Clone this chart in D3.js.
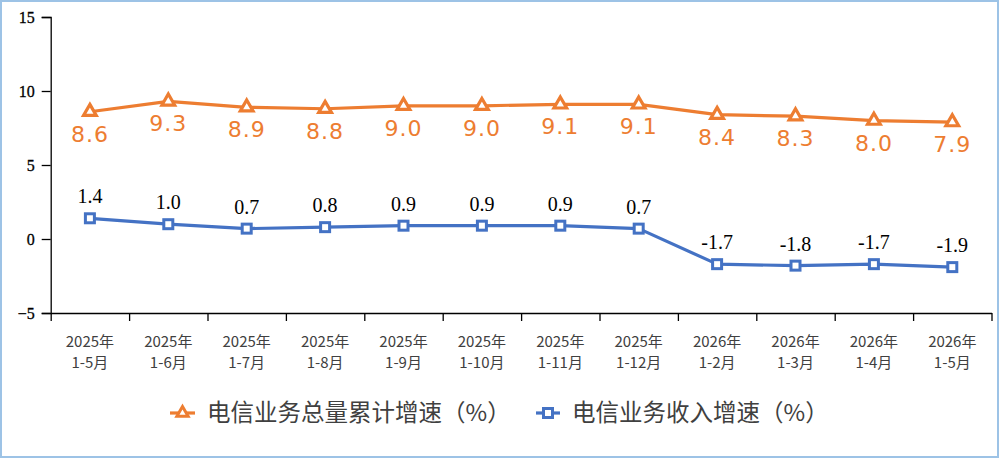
<!DOCTYPE html>
<html><head><meta charset="utf-8">
<script src="https://cdn.jsdelivr.net/npm/d3@7"></script>
<style>
html,body{margin:0;padding:0;background:#fff;}
svg{display:block;}
</style></head>
<body>
<svg id="chart" width="1000" height="459"></svg>
<script>
const years = ["2025年","2025年","2025年","2025年","2025年","2025年","2025年","2025年","2026年","2026年","2026年","2026年"];
const months = ["1-5月","1-6月","1-7月","1-8月","1-9月","1-10月","1-11月","1-12月","1-2月","1-3月","1-4月","1-5月"];
const totalGrowth = [8.6, 9.3, 8.9, 8.8, 9.0, 9.0, 9.1, 9.1, 8.4, 8.3, 8.0, 7.9];
const revenueGrowth = [1.4, 1.0, 0.7, 0.8, 0.9, 0.9, 0.9, 0.7, -1.7, -1.8, -1.7, -1.9];
const yTicks = [-5, 0, 5, 10, 15];
const seriesNames = ["电信业务总量累计增速（%）", "电信业务收入增速（%）"];

const orange = "#ED7D31", blue = "#4472C4";
const svg = d3.select("#chart");

// border
svg.append("rect").attr("x",1).attr("y",1).attr("width",997).attr("height",456)
  .attr("fill","none").attr("stroke","#9DC3E6").attr("stroke-width",2);

const idx = d3.range(months.length);
const x = d3.scaleBand().domain(idx).range([50.7, 991.5]).padding(0);
const y = d3.scaleLinear().domain([-5, 15]).range([313, 17]);
const cx = i => x(i) + x.bandwidth()/2;

// y axis
const yAxis = d3.axisLeft(y).tickValues(yTicks).tickSize(9).tickPadding(7).tickFormat(d3.format("d"));
const gy = svg.append("g").attr("transform","translate(50.7,0)").call(yAxis);
gy.select(".domain").attr("stroke","#000").attr("stroke-width",1.3);
gy.selectAll(".tick line").attr("stroke","#000").attr("stroke-width",1.3);
gy.selectAll(".tick text").attr("font-family","'Liberation Serif','Times New Roman',serif")
  .attr("font-size",16).attr("fill","#000").attr("stroke","#000").attr("stroke-width",0.3);

// x axis: ticks at band boundaries
const xLin = d3.scaleLinear().domain([0, idx.length]).range([50.7, 991.5]);
const xAxis = d3.axisBottom(xLin).tickValues(d3.range(idx.length+1)).tickSize(8).tickSizeOuter(0).tickFormat("");
const gx = svg.append("g").attr("transform","translate(0,313)").call(xAxis);
gx.select(".domain").attr("stroke","#000").attr("stroke-width",1.3);
gx.selectAll(".tick line").attr("stroke","#000").attr("stroke-width",1.3);

// x labels
const xl = svg.append("g").attr("font-family","'Noto Sans CJK SC','Noto Sans',sans-serif")
  .attr("font-size",15).attr("fill","#404040").attr("text-anchor","middle");
xl.selectAll("text.yr").data(idx).join("text").attr("class","yr")
  .attr("x", i => cx(i)).attr("y", 347).text(i => years[i]);
xl.selectAll("text.mo").data(idx).join("text").attr("class","mo")
  .attr("x", i => cx(i)).attr("y", 368).text(i => months[i]);

// lines
const line = d3.line().x((d,i) => cx(i)).y(d => y(d));
svg.append("path").datum(totalGrowth).attr("d", line).attr("fill","none")
  .attr("stroke", orange).attr("stroke-width",3.2).attr("stroke-linejoin","round");
svg.append("path").datum(revenueGrowth).attr("d", line).attr("fill","none")
  .attr("stroke", blue).attr("stroke-width",3.2).attr("stroke-linejoin","round");

// markers
const tri = d3.symbol().type(d3.symbolTriangle).size(70);
svg.append("g").selectAll("path").data(totalGrowth).join("path")
  .attr("d", tri).attr("transform",(d,i)=>`translate(${cx(i)},${y(d)})`)
  .attr("fill","#fff").attr("stroke",orange).attr("stroke-width",3.2);
svg.append("g").selectAll("rect").data(revenueGrowth).join("rect")
  .attr("x",(d,i)=>cx(i)-4.5).attr("y",d=>y(d)-4.5).attr("width",9).attr("height",9)
  .attr("fill","#fff").attr("stroke",blue).attr("stroke-width",3);

// data labels
svg.append("g").selectAll("text").data(totalGrowth).join("text")
  .attr("x",(d,i)=>cx(i)).attr("y",d=>y(d)+30).attr("text-anchor","middle")
  .attr("font-family","'DejaVu Sans',sans-serif").attr("font-weight","normal").attr("font-size",22)
  .attr("letter-spacing","1px").attr("fill",orange).text(d=>d.toFixed(1));
svg.append("g").selectAll("text").data(revenueGrowth).join("text")
  .attr("x",(d,i)=>cx(i)).attr("y",d=>y(d)-15).attr("text-anchor","middle")
  .attr("font-family","'Liberation Serif','Times New Roman',serif").attr("font-size",20)
  .attr("fill","#000").text(d=>d.toFixed(1));

// legend
const lg = svg.append("g");
lg.append("line").attr("x1",170).attr("x2",195).attr("y1",413).attr("y2",413).attr("stroke",orange).attr("stroke-width",3.2);
lg.append("path").attr("d", d3.symbol().type(d3.symbolTriangle).size(55)).attr("transform","translate(182.5,413)")
  .attr("fill","#fff").attr("stroke",orange).attr("stroke-width",3);
lg.append("text").attr("x",207).attr("y",421).attr("font-family","'Noto Sans CJK SC',sans-serif")
  .attr("font-size",23.5).attr("fill","#404040").text(seriesNames[0]);
lg.append("line").attr("x1",536).attr("x2",560).attr("y1",413).attr("y2",413).attr("stroke",blue).attr("stroke-width",3.2);
lg.append("rect").attr("x",543.5).attr("y",408.5).attr("width",9).attr("height",9)
  .attr("fill","#fff").attr("stroke",blue).attr("stroke-width",3);
lg.append("text").attr("x",572).attr("y",421).attr("font-family","'Noto Sans CJK SC',sans-serif")
  .attr("font-size",23.5).attr("fill","#404040").text(seriesNames[1]);
</script>
</body></html>
